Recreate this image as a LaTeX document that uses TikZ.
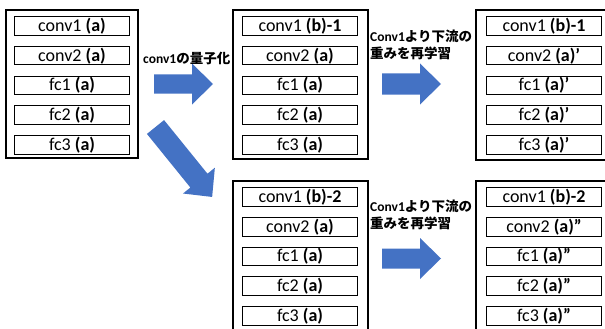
\documentclass[tikz,border=0pt]{standalone}
\usepackage{fontspec}
\setmainfont{Carlito}
\newfontfamily\jpfont{Noto Sans CJK JP}
\usetikzlibrary{positioning}
\definecolor{arrowblue}{HTML}{4472C4}

\tikzset{
    netbox/.style={draw=black, line width=2.2pt, anchor=north west, inner sep=0pt},
    layer/.style={draw=black, line width=0.9pt, minimum width=115pt, minimum height=18.5pt,
        inner sep=0pt, font=\fontsize{18}{18}\selectfont},
    steplabel/.style={align=left, inner sep=0pt, font=\fontsize{13.5}{17}\selectfont\bfseries},
}

\begin{document}
\begin{tikzpicture}[x=1pt, y=-1pt]
    \useasboundingbox (0,0) rectangle (605,329);
    \clip (0,0) rectangle (605,329);

    % Original network
    \node[netbox, minimum width=132pt, minimum height=148pt] (netA) at (5,9) {};
    \node[layer] (A1) at (72,26) {conv1 \textbf{(a)}};
    \node[layer, below=10.3pt of A1] (A2) {conv2 \textbf{(a)}};
    \node[layer, below=10.3pt of A2] (A3) {fc1 \textbf{(a)}};
    \node[layer, below=10.3pt of A3] (A4) {fc2 \textbf{(a)}};
    \node[layer, below=10.3pt of A4] (A5) {fc3 \textbf{(a)}};

    % Quantized conv1, variant 1
    \node[netbox, minimum width=135pt, minimum height=149pt] (netB1) at (232,9) {};
    \node[layer] (B1) at (300,26) {conv1 \textbf{(b)-1}};
    \node[layer, below=10.3pt of B1] (B2) {conv2 \textbf{(a)}};
    \node[layer, below=10.3pt of B2] (B3) {fc1 \textbf{(a)}};
    \node[layer, below=10.3pt of B3] (B4) {fc2 \textbf{(a)}};
    \node[layer, below=10.3pt of B4] (B5) {fc3 \textbf{(a)}};

    % Retrained, variant 1
    \node[netbox, minimum width=135pt, minimum height=150pt] (netC1) at (475,9) {};
    \node[layer] (C1) at (544,26) {conv1 \textbf{(b)-1}};
    \node[layer, below=10.3pt of C1] (C2) {conv2 \textbf{(a)’}};
    \node[layer, below=10.3pt of C2] (C3) {fc1 \textbf{(a)’}};
    \node[layer, below=10.3pt of C3] (C4) {fc2 \textbf{(a)’}};
    \node[layer, below=10.3pt of C4] (C5) {fc3 \textbf{(a)’}};

    % Quantized conv1, variant 2
    \node[netbox, minimum width=135pt, minimum height=160pt] (netB2) at (232,180) {};
    \node[layer] (D1) at (300,197) {conv1 \textbf{(b)-2}};
    \node[layer, below=10.3pt of D1] (D2) {conv2 \textbf{(a)}};
    \node[layer, below=10.3pt of D2] (D3) {fc1 \textbf{(a)}};
    \node[layer, below=10.3pt of D3] (D4) {fc2 \textbf{(a)}};
    \node[layer, below=10.3pt of D4] (D5) {fc3 \textbf{(a)}};

    % Retrained, variant 2
    \node[netbox, minimum width=135pt, minimum height=160pt] (netC2) at (475,180) {};
    \node[layer] (E1) at (544,197) {conv1 \textbf{(b)-2}};
    \node[layer, below=10.3pt of E1] (E2) {conv2 \textbf{(a)”}};
    \node[layer, below=10.3pt of E2] (E3) {fc1 \textbf{(a)”}};
    \node[layer, below=10.3pt of E3] (E4) {fc2 \textbf{(a)”}};
    \node[layer, below=10.3pt of E4] (E5) {fc3 \textbf{(a)”}};

    % Block arrows
    \foreach \ax/\ay/\ang/\len/\bw in {154/84/0/59/9.5, 382/84/0/59/10.5, 382/258.5/0/59/10, 155.5/127/-51/90/11} {
        \pgfmathsetmacro\neck{\len-21}
        \begin{scope}[shift={(\ax,\ay)}, rotate=\ang]
            \fill[arrowblue] (0,-\bw) -- (\neck,-\bw) -- (\neck,-20.5) -- (\len,0)
                -- (\neck,20.5) -- (\neck,\bw) -- (0,\bw) -- cycle;
        \end{scope}
    }

    % Labels
    \node[steplabel, anchor=west] (quant) at (143,58.5) {conv1{\jpfont の量子化}};
    \node[steplabel, anchor=north west] (retrainA) at (370,29.5)
        {Conv1{\jpfont より下流の}\\{\jpfont 重みを再学習}};
    \node[steplabel, anchor=north west] (retrainB) at (370,199.5)
        {Conv1{\jpfont より下流の}\\{\jpfont 重みを再学習}};
\end{tikzpicture}
\end{document}
